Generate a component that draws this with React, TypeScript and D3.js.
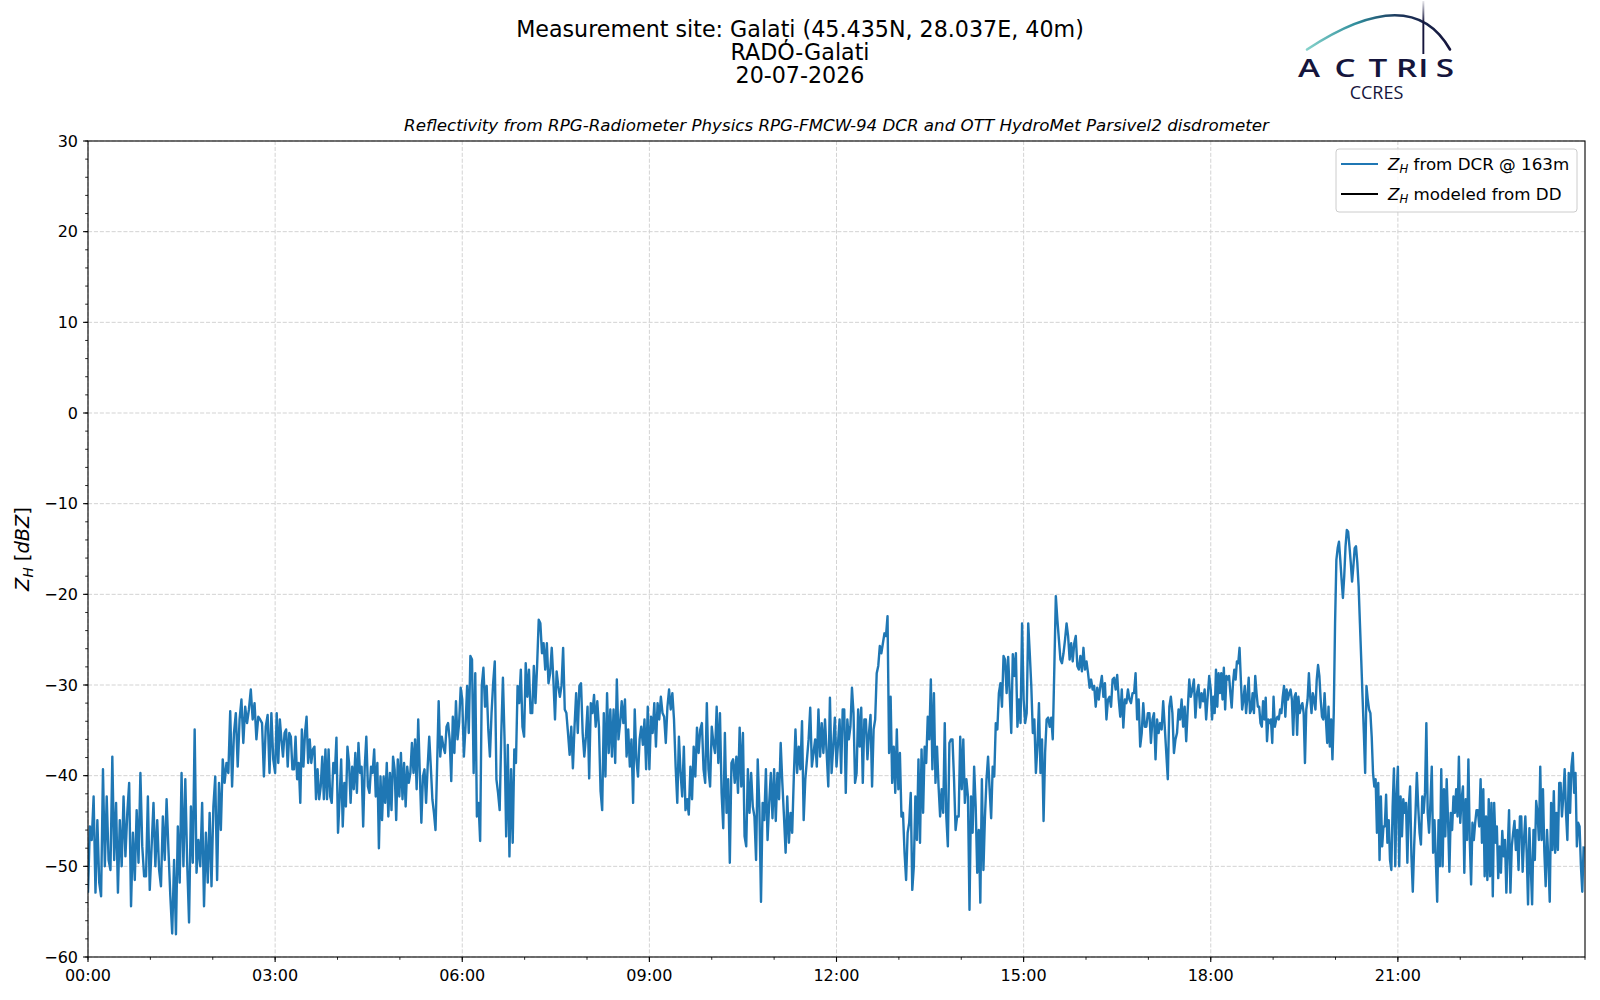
import { useMemo } from 'react'
import * as d3 from 'd3'

const W = 1600
const H = 1000
const M = { left: 88, top: 141, right: 1585, bottom: 957 }

const FONT = '"DejaVu Sans", sans-serif'
const BLUE = '#1f77b4'
const NAVY = '#15153c'

const TITLE_LINES = ['Measurement site: Galați (45.435N, 28.037E, 40m)', 'RADO-Galati', '20-07-2026']
const SUBTITLE = 'Reflectivity from RPG-Radiometer Physics RPG-FMCW-94 DCR and OTT HydroMet Parsivel2 disdrometer'

const X_TICK_HOURS = [0, 3, 6, 9, 12, 15, 18, 21]
const X_TICK_LABELS = ['00:00', '03:00', '06:00', '09:00', '12:00', '15:00', '18:00', '21:00']
const Y_TICKS = [-60, -50, -40, -30, -20, -10, 0, 10, 20, 30]

const ZH_00_03 = [
  -52.9, -45.6, -47.1, -42.3, -52.9, -44.9, -51.8, -53.3, -39.3, -50.0, -42.3, -49.3, -50.4, -37.9, -49.3, -43.0,
  -52.9, -44.9, -50.0, -42.3, -48.9, -44.1, -40.8, -54.4, -46.3, -51.5, -43.8, -49.6, -39.7, -47.8, -51.1, -51.1,
  -42.3, -52.6, -47.8, -43.0, -50.0, -44.9, -50.4, -52.2, -44.5, -49.3, -42.6, -48.2, -53.3, -57.4, -49.3, -57.5,
  -45.6, -51.8, -39.7, -50.0, -40.4, -49.6, -56.2, -43.4, -49.6, -34.9, -50.7, -47.1, -50.0, -43.0, -54.4, -46.3,
  -51.8, -44.1, -52.2, -43.4, -40.1, -51.5, -40.8, -46.0, -38.2, -40.8, -38.6, -39.7, -32.9, -41.2, -35.3, -33.1,
  -39.0, -33.8, -31.6, -36.4, -32.4, -34.2, -32.7, -30.5, -33.8, -32.0, -36.0, -33.5, -33.8, -34.2, -40.1, -34.6,
  -33.3, -39.7, -33.1, -38.2,
]
const ZH_03_06 = [
  -39.7, -33.1, -38.6, -33.8, -36.0, -37.9, -35.3, -34.9, -39.0, -35.3, -35.7, -39.3, -39.3, -35.7, -40.4, -38.6,
  -43.0, -34.9, -39.0, -35.3, -33.5, -38.6, -36.0, -38.6, -37.1, -36.8, -42.6, -39.3, -42.6, -41.2, -37.9, -42.6,
  -37.1, -42.6, -37.1, -42.3, -43.0, -38.6, -39.7, -35.8, -46.3, -42.6, -38.2, -45.6, -40.8, -43.4, -36.8, -38.6,
  -43.0, -39.0, -41.5, -37.5, -41.9, -36.4, -39.7, -39.0, -45.6, -39.0, -35.7, -41.2, -41.9, -39.0, -39.7, -37.1,
  -42.3, -38.6, -48.0, -40.1, -44.9, -40.1, -43.0, -38.6, -44.5, -39.7, -43.8, -37.9, -39.3, -44.9, -38.2, -42.3,
  -37.5, -42.6, -38.6, -43.4, -39.0, -40.8, -39.7, -36.4, -39.7, -36.0, -41.5, -33.8, -39.7, -45.2, -40.1, -39.3,
  -43.0, -39.0, -35.7, -39.0, -42.6, -44.1, -46.0, -39.0, -31.8, -37.9, -35.7, -36.8, -37.5, -34.6, -34.2, -36.0,
  -40.6, -33.5, -37.5, -31.8, -36.0, -34.2, -30.3,
]
const ZH_06_09 = [
  -31.6, -37.9, -34.6, -30.1, -35.3, -26.8, -27.2, -39.7, -28.7, -44.5, -43.0, -47.2, -30.1, -28.1, -32.4, -30.1,
  -34.9, -37.9, -33.1, -29.8, -27.4, -40.4, -41.9, -43.8, -35.3, -29.2, -36.0, -46.7, -36.6, -48.9, -39.3, -47.4,
  -37.1, -38.6, -30.1, -32.0, -28.3, -34.6, -35.7, -27.6, -31.3, -28.3, -33.1, -33.1, -27.9, -32.0, -27.9, -22.8,
  -23.2, -26.5, -25.4, -28.3, -25.4, -29.8, -28.7, -25.9, -29.4, -33.8, -28.5, -30.1, -31.3, -30.1, -25.9, -32.7,
  -33.1, -35.3, -37.7, -34.6, -39.2, -34.6, -30.9, -35.3, -30.1, -29.8, -35.3, -37.9, -35.7, -32.4, -40.3, -32.0,
  -33.1, -31.1, -34.6, -31.8, -34.6, -41.7, -43.8, -33.1, -40.1, -30.9, -37.5, -32.7, -37.9, -32.7, -38.6, -29.4,
  -36.0, -34.2, -31.8, -34.2, -31.6, -37.9, -34.9, -39.0, -36.0, -43.0, -32.7, -38.2, -40.1, -36.0, -34.6, -36.6,
  -33.8, -39.3, -32.4,
]
const ZH_09_12 = [
  -39.3, -33.5, -35.3, -32.0, -36.8, -32.0, -33.8, -31.3, -33.1, -33.5, -36.4, -32.4, -30.5, -32.7, -30.9, -33.8,
  -39.0, -43.0, -35.7, -39.7, -42.3, -36.8, -43.8, -42.6, -44.3, -39.0, -42.6, -36.8, -40.1, -34.7, -37.5, -34.9,
  -34.2, -39.3, -40.8, -32.0, -39.3, -41.2, -34.6, -36.4, -37.5, -32.4, -38.6, -33.1, -41.9, -45.8, -35.3, -44.1,
  -40.4, -49.6, -38.6, -38.2, -40.8, -37.9, -41.9, -34.7, -41.2, -35.3, -46.7, -47.8, -39.3, -44.1, -39.7, -43.4,
  -44.5, -49.3, -38.2, -43.4, -53.9, -43.0, -44.9, -39.3, -47.1, -43.0, -39.7, -44.7, -39.3, -45.0, -39.7, -42.6,
  -36.4, -40.8, -44.5, -48.5, -42.3, -47.4, -44.1, -46.3, -40.1, -34.9, -39.7, -36.8, -39.3, -34.0, -44.9, -40.4,
  -38.2, -36.0, -32.5, -39.0, -37.5, -36.0, -39.0, -32.7, -37.9, -34.2, -37.5, -33.8, -37.5, -41.2, -31.4, -39.7,
  -36.8, -33.6,
]
const ZH_12_15 = [
  -39.0, -36.4, -33.8, -39.7, -32.7, -32.7, -41.9, -33.8, -36.0, -34.6, -30.3, -33.1, -40.8, -39.7, -32.7, -36.8,
  -32.5, -40.8, -33.8, -33.8, -38.2, -35.3, -33.3, -41.2, -34.9, -33.8, -28.7, -27.9, -25.7, -26.5, -25.4, -24.3,
  -24.6, -22.4, -37.5, -31.3, -40.8, -36.8, -41.9, -34.9, -41.5, -37.5, -44.5, -44.1, -48.5, -51.5, -46.3, -45.2,
  -41.9, -52.6, -50.0, -42.3, -47.1, -38.2, -47.4, -37.1, -44.1, -36.8, -38.6, -33.5, -36.0, -29.4, -39.3, -30.9,
  -40.8, -36.8, -41.2, -44.5, -41.5, -44.1, -34.2, -44.5, -47.8, -36.4, -36.0, -36.0, -40.4, -46.0, -44.5, -44.5,
  -35.7, -41.5, -36.0, -43.0, -40.4, -42.3, -54.8, -42.3, -46.3, -39.0, -43.4, -50.7, -46.0, -54.0, -40.4, -50.4,
  -44.5, -40.4, -37.9, -41.5, -44.7, -39.0, -40.1, -34.2, -34.9, -30.9, -29.8, -32.4, -26.8, -27.2, -30.9, -26.9,
  -30.9, -35.3, -26.6, -29.0, -26.5, -34.6, -31.6, -34.2, -23.2,
]
const ZH_15_18 = [
  -31.6, -34.2, -33.1, -23.2, -26.5, -30.1, -35.3, -33.8, -39.7, -36.8, -32.0, -39.7, -36.0, -45.0, -37.5, -33.8,
  -33.6, -34.6, -33.6, -36.0, -28.3, -20.2, -22.8, -25.0, -27.2, -27.6, -26.5, -25.0, -23.2, -24.6, -27.2, -25.4,
  -27.4, -25.4, -24.6, -27.9, -28.3, -26.8, -28.5, -25.9, -28.3, -27.4, -28.7, -30.3, -29.4, -30.5, -30.1, -32.4,
  -30.3, -31.6, -30.1, -29.0, -31.3, -29.8, -33.8, -31.6, -31.3, -32.4, -29.4, -29.2, -30.5, -28.9, -31.6, -33.5,
  -30.5, -34.7, -31.6, -32.0, -30.5, -31.6, -32.0, -30.9, -30.9, -28.7, -33.8, -31.6, -36.8, -35.3, -32.0, -34.6,
  -34.6, -33.1, -33.1, -36.4, -33.8, -33.1, -38.2, -33.8, -35.3, -34.2, -34.9, -31.8, -34.6, -37.5, -40.4, -32.4,
  -31.3, -33.1, -37.5, -36.0, -35.3, -32.7, -33.8, -31.6, -34.6, -32.4, -36.2, -32.7, -29.4, -31.3, -30.5, -29.4,
  -33.6, -30.9, -30.0, -32.5, -30.9, -31.8, -30.5, -33.8, -31.3, -29.0,
]
const ZH_18_21 = [
  -30.5, -33.8, -31.3, -33.1, -28.3, -32.4, -28.7, -30.9, -28.7, -31.6, -28.1, -32.7, -29.0, -29.4, -29.0, -30.9,
  -32.5, -29.8, -28.3, -29.4, -27.4, -27.6, -25.9, -29.4, -32.7, -31.6, -30.1, -33.1, -31.3, -29.2, -33.1, -32.7,
  -30.9, -33.1, -29.0, -30.9, -32.4, -32.4, -34.2, -34.6, -31.8, -33.8, -31.4, -36.2, -33.8, -34.2, -33.8, -36.4,
  -31.3, -34.6, -33.8, -33.5, -33.8, -32.7, -33.1, -31.3, -30.1, -33.5, -30.5, -31.6, -30.9, -30.5, -31.6, -35.5,
  -31.3, -30.9, -35.5, -31.3, -33.1, -32.4, -32.0, -33.1, -38.6, -32.7, -31.6, -28.7, -31.3, -33.1, -30.9, -31.6,
  -32.7, -29.4, -27.8, -29.0, -31.6, -33.5, -33.8, -30.9, -33.8, -36.4, -32.4, -36.8, -33.8, -38.2, -33.1, -23.2,
  -16.2, -14.9, -14.2, -16.2, -18.4, -20.4, -18.0, -14.7, -12.9, -13.1, -14.7, -16.5, -18.6, -16.9, -14.9, -14.7,
  -16.5, -19.1, -23.2, -27.2, -31.3, -35.3, -39.7, -30.1, -31.6, -32.7, -33.1, -35.7, -39.7, -41.2, -40.4, -46.3,
  -40.8, -49.3, -42.3, -47.8, -45.6, -45.6, -42.1, -47.4, -44.9, -49.3, -50.4, -43.4, -39.2, -50.0, -42.3,
]
const ZH_21_24 = [
  -39.0, -50.0, -42.3, -46.7, -42.6, -44.1, -43.0, -49.6, -43.4, -41.2, -48.9, -52.8, -47.8, -44.1, -39.7, -43.4,
  -46.3, -47.6, -42.3, -44.1, -41.9, -34.2, -44.1, -46.3, -43.0, -39.0, -48.5, -44.9, -49.3, -53.9, -44.9, -50.0,
  -39.3, -50.0, -41.5, -46.7, -40.4, -44.9, -50.6, -44.1, -46.0, -42.3, -44.1, -41.5, -44.5, -37.9, -45.2, -42.6,
  -41.2, -50.7, -42.6, -47.1, -38.2, -47.1, -52.0, -45.2, -47.1, -45.2, -43.8, -43.8, -45.6, -40.4, -47.4, -41.5,
  -51.1, -44.5, -51.5, -42.6, -51.1, -43.0, -53.3, -43.0, -47.4, -45.6, -51.3, -47.8, -50.7, -46.1, -48.9, -47.1,
  -52.9, -48.2, -43.8, -52.9, -47.8, -46.3, -45.0, -48.2, -46.0, -50.4, -44.5, -44.5, -50.6, -47.1, -44.5, -48.5,
  -54.2, -45.8, -50.0, -54.2, -46.0, -49.3, -42.8, -44.1, -47.1, -39.0, -47.1, -41.5, -48.3, -52.2, -46.0, -49.3,
  -53.9, -43.0, -48.2, -41.7, -48.5, -44.1, -48.2, -40.8, -40.8, -44.5, -42.3, -39.3, -44.1, -47.1, -39.7, -44.1,
  -39.0, -37.5, -41.9, -39.7, -47.8, -45.2, -45.6, -50.0, -52.8, -47.8,
]

const BLOCKS = [ZH_00_03, ZH_03_06, ZH_06_09, ZH_09_12, ZH_12_15, ZH_15_18, ZH_18_21, ZH_21_24]
const BLOCK_HOURS = 3

// logo letters and where they sit
const LOGO_LETTERS = ['A', 'C', 'T', 'R', 'I', 'S']
const LOGO_X = [1309, 1345, 1378, 1406.5, 1423.3, 1445]

interface Point {
  t: number
  v: number
}

export default function App() {
  const x = d3.scaleLinear().domain([0, 24]).range([M.left, M.right])
  const y = d3.scaleLinear().domain([-60, 30]).range([M.bottom, M.top])

  const points = useMemo<Point[]>(() => {
    const out: Point[] = []
    BLOCKS.forEach((block, k) => {
      block.forEach((v, i) => out.push({ t: k * BLOCK_HOURS + (BLOCK_HOURS * i) / block.length, v }))
    })
    return out
  }, [])

  const line = d3.line<Point>().x(d => x(d.t)).y(d => y(d.v))

  const xMinor = d3.range(0, 25, 1)
  const yMinor = d3.range(-60, 31, 2)
  const minus = (v: number) => (v < 0 ? `\u2212${Math.abs(v)}` : `${v}`)

  const cx = (M.left + M.right) / 2
  const cy = (M.top + M.bottom) / 2

  return (
    <>
      <style>{'body{margin:0}'}</style>
      <svg width={W} height={H} style={{ display: 'block', background: '#fff' }} fontFamily={FONT}>
        <defs>
          <clipPath id="plot-clip">
            <rect x={M.left} y={M.top} width={M.right - M.left} height={M.bottom - M.top} />
          </clipPath>
          <linearGradient id="arc-grad" gradientUnits="userSpaceOnUse" x1={1306} y1={0} x2={1450} y2={0}>
            <stop offset="0%" stopColor="#86d3cb" />
            <stop offset="35%" stopColor="#2f8d9c" />
            <stop offset="65%" stopColor="#1c3459" />
            <stop offset="100%" stopColor={NAVY} />
          </linearGradient>
          <linearGradient id="bar-grad" x1={0} y1={0} x2={0} y2={1}>
            <stop offset="0%" stopColor={NAVY} stopOpacity={0.1} />
            <stop offset="40%" stopColor={NAVY} stopOpacity={1} />
          </linearGradient>
        </defs>

        {/* titles */}
        {TITLE_LINES.map((t, i) => (
          <text key={t} x={W / 2} y={36.5 + i * 23.4} textAnchor="middle" fontSize={22.2} fill="#000">
            {t}
          </text>
        ))}
        <text x={cx} y={131} textAnchor="middle" fontSize={16.7} fontStyle="italic" fill="#000">
          {SUBTITLE}
        </text>

        {/* ACTRIS logo */}
        <g>
          <path d="M1307,49.5 Q1411,-19 1450,49.5" fill="none" stroke="url(#arc-grad)" strokeWidth={2.6} strokeLinecap="round" />
          <rect x={1422.4} y={1} width={1.9} height={53} fill="url(#bar-grad)" />
          {LOGO_LETTERS.map((ch, i) => (
            <text
              key={ch}
              transform={`translate(${LOGO_X[i]},77) scale(1.28,1)`}
              textAnchor="middle"
              fontSize={26}
              fontWeight={600}
              fontFamily='"Open Sans", sans-serif'
              fill={NAVY}
            >
              {ch}
            </text>
          ))}
          <text x={1376.5} y={99} textAnchor="middle" fontSize={18} fontFamily='"Open Sans", sans-serif' fill={NAVY}>
            CCRES
          </text>
        </g>

        {/* grid */}
        <g stroke="#d3d3d3" strokeWidth={1} strokeDasharray="4.1,1.8">
          {X_TICK_HOURS.map(h => (
            <line key={`gx${h}`} x1={x(h)} x2={x(h)} y1={M.top} y2={M.bottom} />
          ))}
          {Y_TICKS.map(v => (
            <line key={`gy${v}`} x1={M.left} x2={M.right} y1={y(v)} y2={y(v)} />
          ))}
        </g>

        {/* data */}
        <path
          d={line(points) ?? ''}
          fill="none"
          stroke={BLUE}
          strokeWidth={2.4}
          strokeLinejoin="round"
          clipPath="url(#plot-clip)"
        />

        {/* spines */}
        <rect x={M.left} y={M.top} width={M.right - M.left} height={M.bottom - M.top} fill="none" stroke="#000" strokeWidth={1.1} />

        {/* ticks */}
        <g stroke="#000">
          {xMinor.map(h => (
            <line key={`xm${h}`} x1={x(h)} x2={x(h)} y1={M.bottom} y2={M.bottom + 2.8} strokeWidth={0.85} />
          ))}
          {X_TICK_HOURS.map(h => (
            <line key={`xM${h}`} x1={x(h)} x2={x(h)} y1={M.bottom} y2={M.bottom + 4.9} strokeWidth={1.1} />
          ))}
          {yMinor.map(v => (
            <line key={`ym${v}`} x1={M.left - 2.8} x2={M.left} y1={y(v)} y2={y(v)} strokeWidth={0.85} />
          ))}
          {Y_TICKS.map(v => (
            <line key={`yM${v}`} x1={M.left - 4.9} x2={M.left} y1={y(v)} y2={y(v)} strokeWidth={1.1} />
          ))}
        </g>
        <g fontSize={16} fill="#000">
          {X_TICK_HOURS.map((h, i) => (
            <text key={`xl${h}`} x={x(h)} y={M.bottom + 24} textAnchor="middle">
              {X_TICK_LABELS[i]}
            </text>
          ))}
          {Y_TICKS.map(v => (
            <text key={`yl${v}`} x={M.left - 10} y={y(v) + 5.8} textAnchor="end">
              {minus(v)}
            </text>
          ))}
        </g>

        {/* y label */}
        <text transform={`translate(29,${cy}) rotate(-90)`} textAnchor="middle" fontSize={19.4} fill="#000">
          <tspan fontStyle="italic">Z</tspan>
          <tspan fontStyle="italic" fontSize={13.6} dy={3.5}>H</tspan>
          <tspan dy={-3.5}>{' ['}</tspan>
          <tspan fontStyle="italic">dBZ</tspan>
          <tspan>]</tspan>
        </text>

        {/* legend */}
        <g>
          <rect x={1336} y={149} width={241} height={63} rx={3} fill="#fff" fillOpacity={0.8} stroke="#cccccc" strokeWidth={1} />
          <line x1={1341} x2={1378} y1={164} y2={164} stroke={BLUE} strokeWidth={2.2} />
          <line x1={1341} x2={1378} y1={194} y2={194} stroke="#000" strokeWidth={2.2} />
          <text x={1388} y={170} fontSize={16.7} fill="#000">
            <tspan fontStyle="italic">Z</tspan>
            <tspan fontStyle="italic" fontSize={11.7} dy={3}>H</tspan>
            <tspan dy={-3}>{' from DCR @ 163m'}</tspan>
          </text>
          <text x={1388} y={200} fontSize={16.7} fill="#000">
            <tspan fontStyle="italic">Z</tspan>
            <tspan fontStyle="italic" fontSize={11.7} dy={3}>H</tspan>
            <tspan dy={-3}>{' modeled from DD'}</tspan>
          </text>
        </g>
      </svg>
    </>
  )
}
